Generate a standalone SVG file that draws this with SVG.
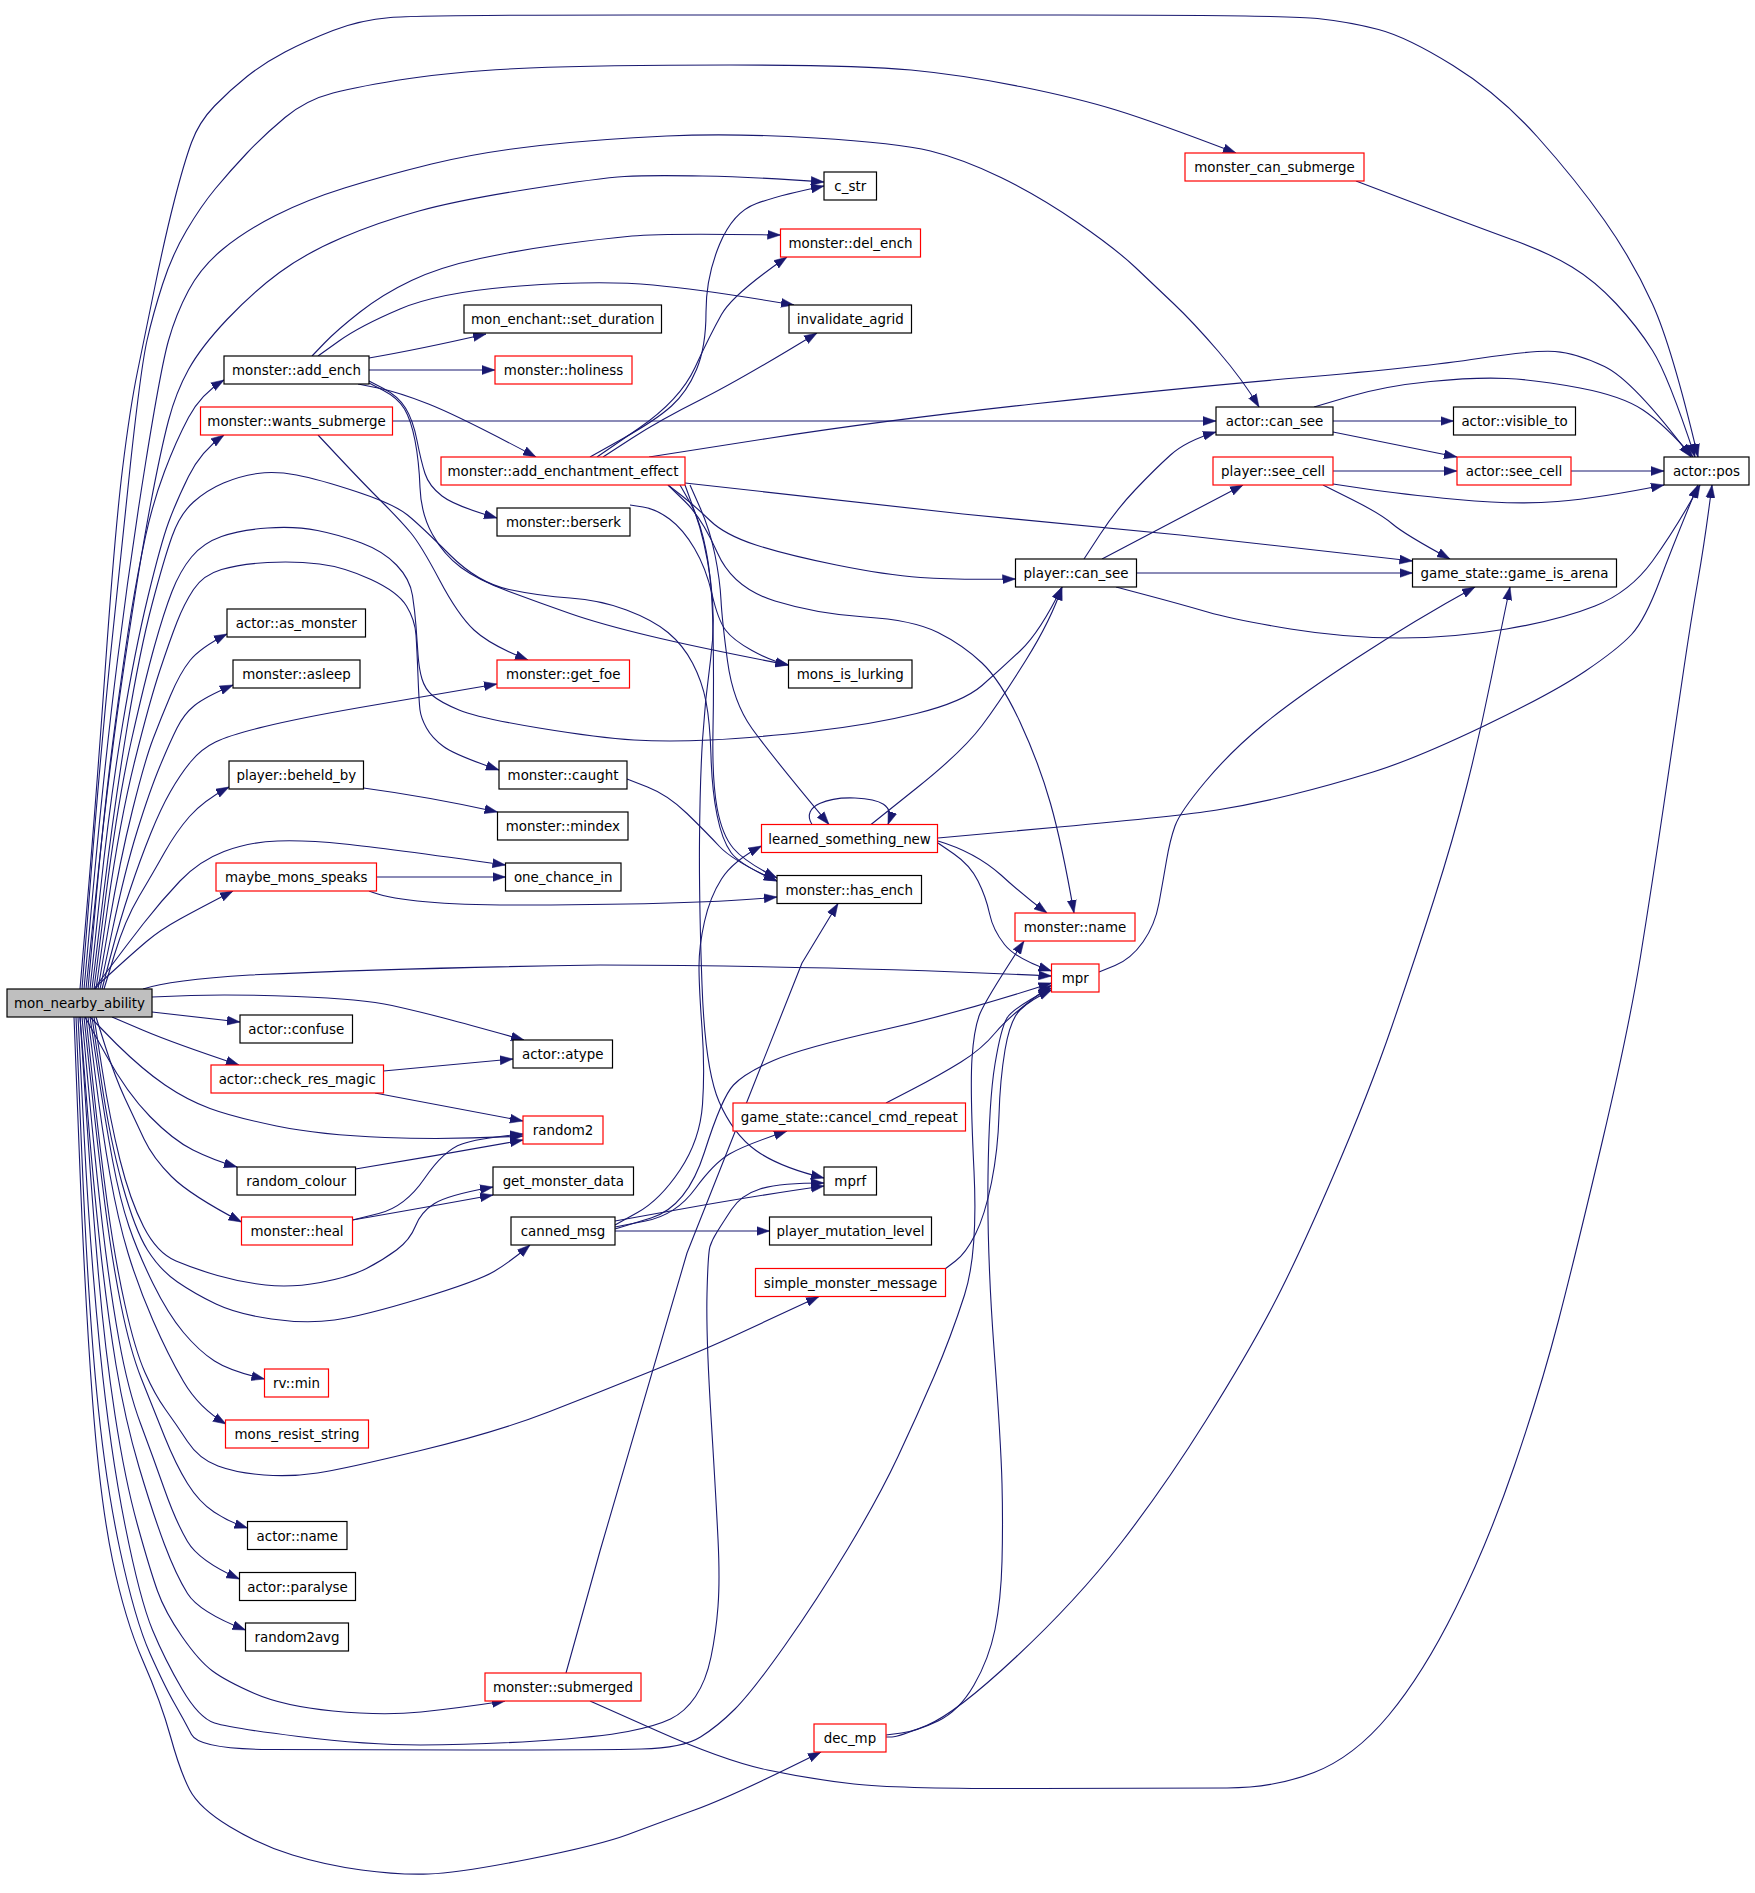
<svg xmlns="http://www.w3.org/2000/svg" width="1755" height="1893" viewBox="0 0 1755 1893">
<style>
.nd rect{fill:#fff;stroke:#000;stroke-width:1.2}
.nd.red rect{stroke:#f00}
.nd.root rect{fill:#bfbfbf}
.nd text{font-family:"DejaVu Sans","Liberation Sans",sans-serif;font-size:13.4px;text-anchor:middle;fill:#000}
.e path{fill:none;stroke:#191970;stroke-width:1.1;stroke-linejoin:round;marker-end:url(#ah)}
</style>
<defs>
<marker id="ah" markerUnits="userSpaceOnUse" viewBox="0 0 13 10" refX="13" refY="5" markerWidth="13" markerHeight="10" orient="auto">
<path d="M0,0.5 L13,5 L0,9.5 z" fill="#191970" stroke="#191970" stroke-width="0.5"/>
</marker>
</defs>
<rect width="1755" height="1893" fill="#fff"/>
<g id="edges" class="e">
<path d="M80,989 L88,894.5 Q96,800 105.5,665 Q115,530 122.5,469 Q130,408 137.5,371.5 Q145,335 155,286 Q165,237 174.5,200 Q184,163 191.5,142.5 Q199,122 214.5,106 Q230,90 247,76.5 Q264,63 285,52 Q306,41 333,30.5 Q360,20 390.5,17.5 Q421,15 635.5,15 L1067.5,15 Q1285,15 1317.5,18.5 Q1350,22 1378.5,29.5 Q1407,37 1453,65.5 Q1499,94 1537.5,137 Q1576,180 1604.5,220.5 Q1633,261 1652.5,304 Q1672,347 1698,457"/>
<path d="M82,989 L91,874.5 Q100,760 110,660 Q120,560 130.5,463.5 Q141,367 147,340.5 Q153,314 162.5,284.5 Q172,255 186.5,230.5 Q201,206 215.5,188.5 Q230,171 247,153 Q264,135 285,117.5 Q306,100 333,93 Q360,86 409.5,78.5 Q459,71 529.5,68 Q600,65 729.5,65 Q859,65 911,70 Q963,75 1020,86.5 Q1077,98 1116,110 Q1155,122 1236,153"/>
<path d="M84,989 L94.5,874.5 Q105,760 117.5,660 Q130,560 145.5,463.5 Q161,367 168.5,340.5 Q176,314 188.5,290.5 Q201,267 223,249 Q245,231 275.5,215.5 Q306,200 344.5,188 Q383,176 431.5,164 Q480,152 540,145.5 Q600,139 666.5,136 Q733,133 815.5,138 Q898,143 930.5,151 Q963,159 1001,177.5 Q1039,196 1077.5,222.5 Q1116,249 1135.5,267.5 Q1155,286 1174,304 Q1193,322 1218,351 Q1243,380 1259,407"/>
<path d="M86,989 L98,874.5 Q110,760 125,660 Q140,560 150.5,504.5 Q161,449 168.5,420.5 Q176,392 188.5,369.5 Q201,347 227,319.5 Q253,292 279.5,272.5 Q306,253 342.5,237.5 Q379,222 419,211 Q459,200 529.5,189 Q600,178 624.5,176.5 Q649,175 702.5,176 Q756,177 824,182"/>
<path d="M88,989 L96.5,894.5 Q105,800 115,725 Q125,650 131.5,610.5 Q138,571 145.5,536.5 Q153,502 164.5,471.5 Q176,441 188.5,417.5 Q201,394 224,380"/>
<path d="M90,989 L100,894.5 Q110,800 122.5,725 Q135,650 148,596.5 Q161,543 168.5,522.5 Q176,502 188.5,476.5 Q201,451 224,435"/>
<path d="M92,989 L103.5,894.5 Q115,800 127.5,725 Q140,650 152,604.5 Q164,559 172,536.5 Q180,514 193.5,502 Q207,490 223.5,483 Q240,476 257.5,473.5 Q275,471 296.5,475 Q318,479 356,491.5 Q394,504 407.5,515 Q421,526 449.5,554.5 Q478,583 509,589.5 Q540,596 570,598 Q600,600 626.5,610 Q653,620 668,632.5 Q683,645 692.5,663 Q702,681 706,701.5 Q710,722 711,756 Q712,790 717,815 Q722,840 731,852.5 Q740,865 777,881"/>
<path d="M94,989 L106,894.5 Q118,800 131.5,740 Q145,680 154.5,646 Q164,612 172,591.5 Q180,571 191.5,557 Q203,543 221.5,536.5 Q240,530 267.5,528 Q295,526 317.5,530.5 Q340,535 361.5,543 Q383,551 396.5,565 Q410,579 412.5,595.5 Q415,612 416,626 Q417,640 418,654.5 Q419,669 422,679 Q425,689 432.5,695.5 Q440,702 459,710 Q478,718 539,728 Q600,738 634,740 Q668,742 710,740 Q752,738 811,731.5 Q870,725 916.5,713.5 Q963,702 982,685.5 Q1001,669 1020.5,650.5 Q1040,632 1062,587"/>
<path d="M96,989 L108,904.5 Q120,820 135,760 Q150,700 160,670 Q170,640 177,622 Q184,604 193.5,589.5 Q203,575 221.5,569.5 Q240,564 267.5,562.5 Q295,561 319.5,564 Q344,567 371,579.5 Q398,592 406.5,606 Q415,620 416,635 Q417,650 418,676 Q419,702 420,710 Q421,718 426.5,728 Q432,738 443.5,746.5 Q455,755 499,770"/>
<path d="M98,989 L109,924.5 Q120,860 132.5,810 Q145,760 153,739 Q161,718 170.5,695.5 Q180,673 190,660.5 Q200,648 227,634"/>
<path d="M100,989 L112.5,929.5 Q125,870 137.5,830 Q150,790 160,766 Q170,742 177,728 Q184,714 194.5,705.5 Q205,697 233,685"/>
<path d="M102,989 L111,954.5 Q120,920 130,890 Q140,860 150.5,834 Q161,808 170.5,791.5 Q180,775 190.5,762 Q201,749 215.5,742 Q230,735 265,726.5 Q300,718 360,707.5 Q420,697 497,684"/>
<path d="M104,989 L114.5,954.5 Q125,920 139,896.5 Q153,873 164.5,852.5 Q176,832 189.5,816.5 Q203,801 229,787"/>
<path d="M94,989 L110,967.5 Q126,946 143.5,923.5 Q161,901 180,881 Q199,861 224,851.5 Q249,842 277.5,841 Q306,840 344.5,844 Q383,848 505.5,865"/>
<path d="M95,989 L100,983 L116.5,968 Q133,953 146.5,941.5 Q160,930 180,919 Q200,908 233,891"/>
<path d="M143,989 Q170,980 250,975 Q400,968 600,965 Q848,966 1051.5,976"/>
<path d="M152,997 L191,995.5 Q230,994 296.5,996.5 Q363,999 392,1005.5 Q421,1012 445.5,1018.5 Q470,1025 524,1040"/>
<path d="M152,1012 L240,1022"/>
<path d="M112,1017 L142.5,1030 Q173,1043 239,1065"/>
<path d="M90,1017 L116.5,1044 Q143,1070 165,1085 Q187,1100 210,1108.5 Q233,1117 276.5,1126 Q320,1135 385,1137.5 Q450,1140 523,1136"/>
<path d="M85,1017 L106,1055 Q127,1093 150,1116.5 Q173,1140 193,1150 Q213,1160 237,1167"/>
<path d="M96,1017 L105.5,1047 Q115,1077 125,1098.5 Q135,1120 144,1139 Q153,1158 171.5,1176.5 Q190,1195 241.5,1222"/>
<path d="M94,1017 L102,1068.5 Q110,1120 120,1160 Q130,1200 143.5,1226.5 Q157,1253 176,1261 Q195,1269 217.5,1275.5 Q240,1282 265.5,1285 Q291,1288 320.5,1282.5 Q350,1277 366.5,1268.5 Q383,1260 396.5,1250 Q410,1240 415.5,1226 Q421,1212 434.5,1203.5 Q448,1195 493,1187"/>
<path d="M92,1017 L101,1078.5 Q110,1140 122.5,1185 Q135,1230 147.5,1250 Q160,1270 177.5,1282 Q195,1294 216,1304 Q237,1314 271.5,1319 Q306,1324 334.5,1320 Q363,1316 420.5,1298.5 Q478,1281 494,1271.5 Q510,1262 530,1245"/>
<path d="M90,1017 L97.5,1068.5 Q105,1120 112.5,1160 Q120,1200 129,1226.5 Q138,1253 153,1283.5 Q168,1314 183.5,1332.5 Q199,1351 214.5,1361 Q230,1371 264.5,1379"/>
<path d="M88,1017 L95,1073.5 Q102,1130 110,1175 Q118,1220 128,1253 Q138,1286 153,1320.5 Q168,1355 183.5,1381.5 Q199,1408 226,1424"/>
<path d="M86,1017 L93,1083.5 Q100,1150 107.5,1205 Q115,1260 125,1305 Q135,1350 145,1372.5 Q155,1395 165.5,1409.5 Q176,1424 187.5,1441.5 Q199,1459 218,1466 Q237,1473 264,1475 Q291,1477 317.5,1473 Q344,1469 420.5,1450.5 Q497,1432 548.5,1412 Q600,1392 653,1370.5 Q706,1349 735,1335.5 Q764,1322 819,1296.5"/>
<path d="M84,1017 L91,1083.5 Q98,1150 105,1205 Q112,1260 121,1305 Q130,1350 141.5,1379 Q153,1408 164.5,1436.5 Q176,1465 187.5,1483.5 Q199,1502 214,1512 Q229,1522 247.5,1528"/>
<path d="M82,1017 L89,1093.5 Q96,1170 103,1230 Q110,1290 119,1340 Q128,1390 140.5,1423.5 Q153,1457 164.5,1489.5 Q176,1522 187.5,1541.5 Q199,1561 239.5,1579"/>
<path d="M80,1017 L86.5,1098.5 Q93,1180 100,1245 Q107,1310 116,1365 Q125,1420 139,1467 Q153,1514 164.5,1544.5 Q176,1575 187.5,1593.5 Q199,1612 245.5,1630"/>
<path d="M80,1017 L86,1108.5 Q92,1200 98.5,1275 Q105,1350 115,1415 Q125,1480 137.5,1525 Q150,1570 157.5,1591 Q165,1612 182,1636.5 Q199,1661 212.5,1671 Q226,1681 254.5,1693.5 Q283,1706 333,1711 Q383,1716 421,1712 Q459,1708 505,1701"/>
<path d="M78,1017 L84,1133.5 Q90,1250 100,1350 Q110,1450 125,1525 Q140,1600 152.5,1630 Q165,1660 182,1689 Q199,1718 214.5,1723 Q230,1728 298.5,1736.5 Q367,1745 420.5,1745 Q474,1745 537,1741 Q600,1737 628,1731.5 Q656,1726 670.5,1719 Q685,1712 695.5,1696.5 Q706,1681 711,1657 Q716,1633 718,1606.5 Q720,1580 718,1539 Q716,1498 711,1416.5 Q706,1335 707,1294 Q708,1253 710,1246.5 Q712,1240 717,1232 Q722,1224 731.5,1209.5 Q741,1195 760,1189 Q779,1183 824,1183"/>
<path d="M76,1017 L82,1158.5 Q88,1300 96.5,1390 Q105,1480 120,1550 Q135,1620 150,1653.5 Q165,1687 174.5,1703.5 Q184,1720 191.5,1734.5 Q199,1749 269.5,1749.5 Q340,1750 470,1750 Q600,1750 641.5,1749 Q683,1748 700.5,1737 Q718,1726 735,1709 Q752,1692 784.5,1646 Q817,1600 848,1548.5 Q879,1497 898,1456.5 Q917,1416 934,1376.5 Q951,1337 964.5,1295 Q978,1253 974,1171 Q970,1089 972,1058.5 Q974,1028 980,1013.5 Q986,999 1024,941"/>
<path d="M74,1017 L79.5,1158.5 Q85,1300 92.5,1400 Q100,1500 112.5,1560 Q125,1620 143,1661 Q161,1702 170.5,1736.5 Q180,1771 189.5,1789.5 Q199,1808 229.5,1826.5 Q260,1845 292.5,1855 Q325,1865 361.5,1870 Q398,1875 428.5,1874 Q459,1873 529.5,1859 Q600,1845 628,1834.5 Q656,1824 694.5,1810 Q733,1796 821,1752"/>
<path d="M312,356 L324.5,343 Q337,330 360,312 Q383,294 411.5,280.5 Q440,267 480,258.5 Q520,250 560,244.5 Q600,239 632,236 Q664,233 780.5,235"/>
<path d="M318,356 L339,341 Q360,326 400,309 Q440,292 520,286 Q600,280 653,285 Q706,290 794,305"/>
<path d="M369,358 Q421,349 486,334"/>
<path d="M369,370 L495,370"/>
<path d="M358,384 L378,388 Q398,392 428.5,404 Q459,416 536,457"/>
<path d="M369,381 L383.5,388.5 Q398,396 405.5,408 Q413,420 417,440.5 Q421,461 425,473.5 Q429,486 442,496 Q455,506 497,518"/>
<path d="M369,383 L383.5,390.5 Q398,398 404.5,409 Q411,420 415,440.5 Q419,461 420,487.5 Q421,514 432.5,534.5 Q444,555 461,567.5 Q478,580 509,591.5 Q540,603 570,613.5 Q600,624 650,636 Q700,648 788.5,665"/>
<path d="M392.5,421 L1216,421"/>
<path d="M318,435 L340,458.5 Q362,482 381,501 Q400,520 410.5,532.5 Q421,545 439.5,580 Q458,615 474,630 Q490,645 528,660"/>
<path d="M363.5,788 Q430,797 497.5,812"/>
<path d="M376.5,877 L505.5,877"/>
<path d="M369,891 Q400,904 500,905 Q700,905 777,897"/>
<path d="M383.5,1071 L513,1059"/>
<path d="M375,1093 L523,1121"/>
<path d="M355.5,1169 Q440,1155 523,1140"/>
<path d="M352.5,1220 L378.75,1213.5 Q405,1207 424.5,1178.5 Q444,1150 462,1144 Q480,1138 523,1134"/>
<path d="M352.5,1220 Q405,1211 493,1195"/>
<path d="M627,779 L647.5,787 Q668,795 687,813.5 Q706,832 719.5,846.5 Q733,861 777,881"/>
<path d="M630,505 L643,507 Q656,509 669.5,519 Q683,529 694.5,548.5 Q706,568 712,594 Q718,620 725.5,630 Q733,640 752,650.5 Q771,661 788.5,665"/>
<path d="M590,457 L623,438.5 Q656,420 671.5,406 Q687,392 696.5,369.5 Q706,347 706,312 Q706,277 719.5,244.5 Q733,212 756.5,203.5 Q780,195 824,186"/>
<path d="M597,457 L638.5,428.5 Q680,400 695,367.5 Q710,335 721.5,314.5 Q733,294 787,257"/>
<path d="M603,457 L631.5,438.5 Q660,420 700,400 Q740,380 817,333"/>
<path d="M690,485 L700,507.5 Q710,530 715,555 Q720,580 721,600 Q722,620 727.5,661 Q733,702 752,728.5 Q771,755 829,824.5"/>
<path d="M680,485 L690,502.5 Q700,520 706,550 Q712,580 713,630 Q714,680 713,730 Q712,780 717,807.5 Q722,835 733.5,848.5 Q745,862 777,878"/>
<path d="M685,485 L695,512.5 Q705,540 710.5,580 Q716,620 710.5,660 Q705,700 702.5,740 Q700,780 699.5,840 Q699,900 702,984.5 Q705,1069 719,1101.5 Q733,1134 756,1150.5 Q779,1167 824,1178"/>
<path d="M668,485 L685,501.5 Q702,518 717.5,553 Q733,588 775,601 Q817,614 865,617 Q913,620 938,632.5 Q963,645 982,663 Q1001,681 1020,722 Q1039,763 1050.5,803.5 Q1062,844 1074,913"/>
<path d="M668,485 L681.5,495.5 Q695,506 710,520.5 Q725,535 756,545 Q787,555 836.5,565 Q886,575 920.5,577.5 Q955,580 1015.5,579"/>
<path d="M685,483 L963,514 L1180,535 L1412.5,561"/>
<path d="M649,457 L767.5,438.5 Q886,420 1033,404 Q1180,388 1301.5,377.5 Q1423,367 1478.5,358.5 Q1534,350 1555,351.5 Q1576,353 1604.5,366.5 Q1633,380 1691,457"/>
<path d="M615,1231 L769.5,1231"/>
<path d="M615,1221 L676,1210 Q760,1195 824,1186"/>
<path d="M615,1227 L645.5,1221 Q676,1215 695,1189 Q714,1163 729.5,1154 Q745,1145 787,1131"/>
<path d="M615,1229 L651,1218 Q687,1207 704.5,1152 Q722,1097 733.5,1085 Q745,1073 773.5,1060.5 Q802,1048 882.5,1030 Q963,1012 1051.5,983"/>
<path d="M615,1225 L637.5,1212.5 Q660,1200 680,1170 Q700,1140 702.5,1104.5 Q705,1069 702,1028 Q699,987 699,966.5 Q699,946 704.5,921.5 Q710,897 721.5,879 Q733,861 761.5,846"/>
<path d="M566,1673 L600,1551 L687,1253 L802,963 L838,903.5"/>
<path d="M590,1701 L657.5,1731 Q725,1761 767.5,1770 Q810,1779 854,1784 Q898,1789 1039,1788.5 Q1180,1788 1227,1788 Q1274,1788 1314,1772.5 Q1354,1757 1388.5,1715.5 Q1423,1674 1455.5,1608.5 Q1488,1543 1514.5,1465.5 Q1541,1388 1558.5,1320.5 Q1576,1253 1602.5,1140.5 Q1629,1028 1640.5,956.5 Q1652,885 1664,803.5 Q1676,722 1683.5,671 Q1691,620 1698,580 Q1705,540 1712,485"/>
<path d="M886,1735 L901.5,1733 Q917,1731 938,1721 Q959,1711 974,1685 Q989,1659 995,1629.5 Q1001,1600 1002,1561.5 Q1003,1523 1002,1483.5 Q1001,1444 994,1348.5 Q987,1253 988,1176.5 Q989,1100 995,1064 Q1001,1028 1007,1018 Q1013,1008 1051.5,988"/>
<path d="M886,1737 L892,1737 Q898,1737 926.5,1725.5 Q955,1714 1016,1657 Q1077,1600 1121,1543 Q1165,1486 1206,1420.5 Q1247,1355 1272,1307.5 Q1297,1260 1333,1176.5 Q1369,1093 1392,1026 Q1415,959 1434,899.5 Q1453,840 1466.5,787 Q1480,734 1491.5,677 Q1503,620 1510,587"/>
<path d="M945,1269 L955.5,1261 Q966,1253 975.5,1234 Q985,1215 991.5,1182.5 Q998,1150 999,1115 Q1000,1080 1005,1050 Q1010,1020 1020,1010 Q1030,1000 1051.5,990"/>
<path d="M886,1103 L913,1089 Q940,1075 961,1062 Q982,1049 996,1032 Q1010,1015 1051.5,985"/>
<path d="M812,824.5 C800,805 830,797 855,798 C880,799 895,805 888,824.5"/>
<path d="M871,824.5 L917,787.75 Q963,751 982,725.5 Q1001,700 1026,660 Q1051,620 1062,587"/>
<path d="M938,841 Q975,852 1001,875 Q1025,897 1047,913"/>
<path d="M938,843 L954,854 Q970,865 978,881 Q986,897 989.5,913.5 Q993,930 1004.5,944.5 Q1016,959 1051.5,971"/>
<path d="M938,838 L1059,827 Q1180,816 1217,810 Q1254,804 1292.5,794.5 Q1331,785 1373,772 Q1415,759 1484,726 Q1553,693 1585.5,671 Q1618,649 1631.5,634.5 Q1645,620 1660,580 Q1675,540 1698,485"/>
<path d="M1099,972 L1115,965.5 Q1131,959 1143,942 Q1155,925 1159,903 Q1163,881 1166.5,860.5 Q1170,840 1175,826 Q1180,812 1205.5,781.5 Q1231,751 1264,724 Q1297,697 1356,658.5 Q1415,620 1475,587"/>
<path d="M1084,559 L1100,534.5 Q1116,510 1135.5,489.5 Q1155,469 1170.5,455 Q1186,441 1216,432"/>
<path d="M1102,559 L1180,518 L1243,485"/>
<path d="M1136.5,573 L1412.5,573"/>
<path d="M1116,587 L1148,595.5 Q1180,604 1207.5,612 Q1235,620 1290.5,629 Q1346,638 1399.5,638 Q1453,638 1506.5,629 Q1560,620 1595,606 Q1630,592 1652.5,561 Q1675,530 1700,485"/>
<path d="M1333,471 L1457,471"/>
<path d="M1333,484 L1366.5,489 Q1400,494 1457.5,499.5 Q1515,505 1557.5,501.5 Q1600,498 1664,485"/>
<path d="M1323,485 L1352,499.5 Q1381,514 1392.5,524 Q1404,534 1450,559"/>
<path d="M1333,421 L1453.5,421"/>
<path d="M1333,432 L1457,457"/>
<path d="M1314,407 L1349.5,396.5 Q1385,386 1430.5,381.5 Q1476,377 1507,378.5 Q1538,380 1580,388 Q1622,396 1643,410 Q1664,424 1693,457"/>
<path d="M1571,471 L1664,471"/>
<path d="M1356,181 L1418,204.5 Q1480,228 1514.5,240.5 Q1549,253 1572,267 Q1595,281 1616,303.5 Q1637,326 1652.5,350.5 Q1668,375 1695,457"/>
</g>
<g id="n_mon_nearby_ability" class="nd root"><rect x="7" y="989" width="145" height="28"/><text x="79.5" y="1008">mon_nearby_ability</text></g>
<g id="n_add_ench" class="nd"><rect x="224" y="356" width="145" height="28"/><text x="296.5" y="375">monster::add_ench</text></g>
<g id="n_wants_submerge" class="nd red"><rect x="200.5" y="407" width="192" height="28"/><text x="296.5" y="426">monster::wants_submerge</text></g>
<g id="n_as_monster" class="nd"><rect x="227" y="609" width="138.5" height="28"/><text x="296.25" y="628">actor::as_monster</text></g>
<g id="n_asleep" class="nd"><rect x="233" y="660" width="127" height="28"/><text x="296.5" y="679">monster::asleep</text></g>
<g id="n_beheld_by" class="nd"><rect x="229" y="761" width="134.5" height="28"/><text x="296.25" y="780">player::beheld_by</text></g>
<g id="n_maybe_mons_speaks" class="nd red"><rect x="216" y="863" width="160.5" height="28"/><text x="296.25" y="882">maybe_mons_speaks</text></g>
<g id="n_confuse" class="nd"><rect x="240" y="1015" width="112.5" height="28"/><text x="296.25" y="1034">actor::confuse</text></g>
<g id="n_check_res_magic" class="nd red"><rect x="211" y="1065" width="172.5" height="28"/><text x="297.25" y="1084">actor::check_res_magic</text></g>
<g id="n_random_colour" class="nd"><rect x="237" y="1167" width="118.5" height="28"/><text x="296.25" y="1186">random_colour</text></g>
<g id="n_heal" class="nd red"><rect x="241.5" y="1217" width="111" height="28"/><text x="297" y="1236">monster::heal</text></g>
<g id="n_rv_min" class="nd red"><rect x="264.5" y="1369" width="64" height="28"/><text x="296.5" y="1388">rv::min</text></g>
<g id="n_mons_resist_string" class="nd red"><rect x="225.5" y="1420" width="143" height="28"/><text x="297" y="1439">mons_resist_string</text></g>
<g id="n_actor_name" class="nd"><rect x="247.5" y="1521.5" width="99.5" height="28"/><text x="297.25" y="1540.5">actor::name</text></g>
<g id="n_paralyse" class="nd"><rect x="239.5" y="1572.5" width="116" height="28"/><text x="297.5" y="1591.5">actor::paralyse</text></g>
<g id="n_random2avg" class="nd"><rect x="245.5" y="1623" width="103" height="28"/><text x="297" y="1642">random2avg</text></g>
<g id="n_submerged" class="nd red"><rect x="485" y="1673" width="156" height="28"/><text x="563" y="1692">monster::submerged</text></g>
<g id="n_dec_mp" class="nd red"><rect x="814" y="1724" width="72" height="28"/><text x="850" y="1743">dec_mp</text></g>
<g id="n_set_duration" class="nd"><rect x="464" y="305" width="197.5" height="28"/><text x="562.75" y="324">mon_enchant::set_duration</text></g>
<g id="n_holiness" class="nd red"><rect x="495" y="356" width="137" height="28"/><text x="563.5" y="375">monster::holiness</text></g>
<g id="n_add_enchantment_effect" class="nd red"><rect x="441" y="457" width="244" height="28"/><text x="563" y="476">monster::add_enchantment_effect</text></g>
<g id="n_berserk" class="nd"><rect x="497" y="508" width="133" height="28"/><text x="563.5" y="527">monster::berserk</text></g>
<g id="n_get_foe" class="nd red"><rect x="497" y="660" width="132.5" height="28"/><text x="563.25" y="679">monster::get_foe</text></g>
<g id="n_caught" class="nd"><rect x="499" y="761" width="128" height="28"/><text x="563" y="780">monster::caught</text></g>
<g id="n_mindex" class="nd"><rect x="497.5" y="812" width="130.5" height="28"/><text x="562.75" y="831">monster::mindex</text></g>
<g id="n_one_chance_in" class="nd"><rect x="505.5" y="863" width="115.5" height="28"/><text x="563.25" y="882">one_chance_in</text></g>
<g id="n_atype" class="nd"><rect x="513" y="1040" width="99.5" height="28"/><text x="562.75" y="1059">actor::atype</text></g>
<g id="n_random2" class="nd red"><rect x="523" y="1116" width="80" height="28"/><text x="563" y="1135">random2</text></g>
<g id="n_get_monster_data" class="nd"><rect x="493" y="1167" width="140.5" height="28"/><text x="563.25" y="1186">get_monster_data</text></g>
<g id="n_canned_msg" class="nd"><rect x="511" y="1217" width="104" height="28"/><text x="563" y="1236">canned_msg</text></g>
<g id="n_c_str" class="nd"><rect x="824" y="172" width="52.5" height="28"/><text x="850.25" y="191">c_str</text></g>
<g id="n_del_ench" class="nd red"><rect x="780.5" y="229" width="140" height="28"/><text x="850.5" y="248">monster::del_ench</text></g>
<g id="n_invalidate_agrid" class="nd"><rect x="789" y="305" width="122.5" height="28"/><text x="850.25" y="324">invalidate_agrid</text></g>
<g id="n_mons_is_lurking" class="nd"><rect x="788.5" y="660" width="123.5" height="28"/><text x="850.25" y="679">mons_is_lurking</text></g>
<g id="n_learned_something_new" class="nd red"><rect x="761.5" y="824.5" width="176" height="28"/><text x="849.5" y="843.5">learned_something_new</text></g>
<g id="n_has_ench" class="nd"><rect x="777" y="875.5" width="144.5" height="28"/><text x="849.25" y="894.5">monster::has_ench</text></g>
<g id="n_cancel_cmd_repeat" class="nd red"><rect x="733" y="1103" width="232.5" height="28"/><text x="849.25" y="1122">game_state::cancel_cmd_repeat</text></g>
<g id="n_mprf" class="nd"><rect x="824" y="1167" width="52.5" height="28"/><text x="850.25" y="1186">mprf</text></g>
<g id="n_player_mutation_level" class="nd"><rect x="769.5" y="1217" width="162" height="28"/><text x="850.5" y="1236">player_mutation_level</text></g>
<g id="n_simple_monster_message" class="nd red"><rect x="755.5" y="1268.5" width="190" height="28"/><text x="850.5" y="1287.5">simple_monster_message</text></g>
<g id="n_monster_name" class="nd red"><rect x="1015" y="913" width="120" height="28"/><text x="1075" y="932">monster::name</text></g>
<g id="n_mpr" class="nd red"><rect x="1051.5" y="964" width="47.5" height="28"/><text x="1075.25" y="983">mpr</text></g>
<g id="n_monster_can_submerge" class="nd red"><rect x="1185" y="153" width="179" height="28"/><text x="1274.5" y="172">monster_can_submerge</text></g>
<g id="n_actor_can_see" class="nd"><rect x="1216" y="407" width="117" height="28"/><text x="1274.5" y="426">actor::can_see</text></g>
<g id="n_player_can_see" class="nd"><rect x="1015.5" y="559" width="121" height="28"/><text x="1076" y="578">player::can_see</text></g>
<g id="n_player_see_cell" class="nd red"><rect x="1213" y="457" width="120" height="28"/><text x="1273" y="476">player::see_cell</text></g>
<g id="n_visible_to" class="nd"><rect x="1453.5" y="407" width="122" height="28"/><text x="1514.5" y="426">actor::visible_to</text></g>
<g id="n_actor_see_cell" class="nd red"><rect x="1457" y="457" width="114" height="28"/><text x="1514" y="476">actor::see_cell</text></g>
<g id="n_game_is_arena" class="nd"><rect x="1412.5" y="559" width="204" height="28"/><text x="1514.5" y="578">game_state::game_is_arena</text></g>
<g id="n_actor_pos" class="nd"><rect x="1664" y="457" width="85" height="28"/><text x="1706.5" y="476">actor::pos</text></g>
</svg>
